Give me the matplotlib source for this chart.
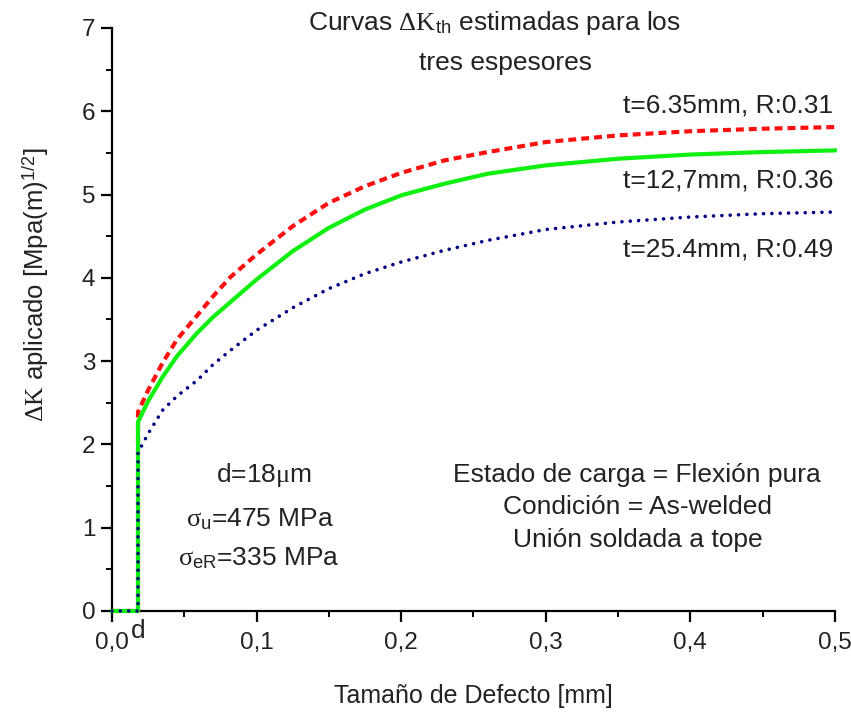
import numpy as np
import matplotlib
matplotlib.use("Agg")
import matplotlib.pyplot as plt
from matplotlib.ticker import MultipleLocator, FuncFormatter

plt.rcParams["font.family"] = ["Liberation Sans", "DejaVu Sans"]
plt.rcParams["mathtext.fontset"] = "custom"
plt.rcParams["mathtext.rm"] = "Liberation Serif"
plt.rcParams["mathtext.it"] = "Liberation Serif"
plt.rcParams["mathtext.sf"] = "Liberation Sans"

# tamaño de defecto d [mm] y puntos de las curvas
d = 0.018
a = [0.018, 0.025, 0.035, 0.045, 0.059, 0.07, 0.082, 0.1, 0.125, 0.15,
     0.175, 0.2, 0.23, 0.26, 0.3, 0.35, 0.4, 0.45, 0.5]

dk_635 = [2.39, 2.65, 2.98, 3.26, 3.55, 3.78, 4.01, 4.28, 4.62, 4.90,
          5.10, 5.26, 5.41, 5.51, 5.63, 5.71, 5.76, 5.79, 5.81]
dk_127 = [2.27, 2.52, 2.81, 3.06, 3.34, 3.53, 3.71, 3.98, 4.32, 4.60,
          4.82, 4.99, 5.13, 5.25, 5.35, 5.43, 5.48, 5.51, 5.53]
dk_254 = [1.90, 2.13, 2.41, 2.58, 2.77, 2.96, 3.13, 3.37, 3.64, 3.87,
          4.05, 4.19, 4.33, 4.45, 4.58, 4.67, 4.73, 4.77, 4.79]

labels = ["t=6.35mm, R:0.31", "t=12,7mm, R:0.36", "t=25.4mm, R:0.49"]


def with_step(y):
    # tramo en cero hasta d y salto vertical en d
    xs = [0.0, d] + a
    ys = [0.0, 0.0] + y
    return xs, ys


fig = plt.figure(figsize=(8.51, 7.15), dpi=100)
ax = fig.add_axes([0.1316, 0.1455, 0.8494, 0.8154])

x, y = with_step(dk_635)
ax.plot(x, y, color="#ff1010", lw=3.0, ls=(0, (1.9, 1.2)),
        zorder=3, clip_on=False)
x, y = with_step(dk_127)
ax.plot(x, y, color="#10f010", lw=3.0, ls="-", zorder=3, clip_on=False)
x, y = with_step(dk_254)
ax.plot(x, y, color="#000080", lw=2.6, ls=(0, (0.01, 2.3)),
        dash_capstyle="round", zorder=3, clip_on=False)

ax.set_xlim(0, 0.5)
ax.set_ylim(0, 7)
for s in ["top", "right"]:
    ax.spines[s].set_visible(False)
for s in ["left", "bottom"]:
    ax.spines[s].set_linewidth(1.6)

tc = "#222222"
ax.xaxis.set_major_locator(MultipleLocator(0.1))
ax.xaxis.set_minor_locator(MultipleLocator(0.05))
ax.yaxis.set_major_locator(MultipleLocator(1))
ax.yaxis.set_minor_locator(MultipleLocator(0.5))
ax.xaxis.set_major_formatter(FuncFormatter(lambda v, p: f"{v:.1f}".replace(".", ",")))
ax.tick_params(which="major", direction="out", length=8, width=1.6,
               labelsize=17.5, labelcolor=tc)
ax.tick_params(axis="x", which="major", pad=7)
ax.tick_params(axis="y", which="major", pad=4)
ax.tick_params(which="minor", direction="out", length=4.5, width=1.4)

ax.set_xlabel("Tamaño de Defecto [mm]", fontsize=18, color=tc)
ax.xaxis.set_label_coords(0.5, -0.125)
ax.set_ylabel(r"$\Delta\mathrm{K}$ aplicado [Mpa(m)$^{\mathsf{1/2}}$]",
              fontsize=18.5, color=tc)
ax.yaxis.set_label_coords(-0.084, 0.559)

ax.text(0.1355, 6.97, r"Curvas $\Delta\mathrm{K}_{\mathsf{th}}$ estimadas para los",
        ha="left", va="baseline", fontsize=19, color=tc)
ax.text(0.272, 6.49, "tres espesores", ha="center", va="baseline",
        fontsize=19, color=tc)

ax.text(0.499, 5.98, labels[0], ha="right", va="baseline", fontsize=19, color=tc)
ax.text(0.499, 5.09, labels[1], ha="right", va="baseline", fontsize=19, color=tc)
ax.text(0.499, 4.25, labels[2], ha="right", va="baseline", fontsize=19, color=tc)

ax.text(0.105, 1.55, r"d=18$\mathrm{\mu}$m", ha="center", va="baseline",
        fontsize=19, color=tc)
ax.text(0.1024, 1.01, r"$\sigma_{\mathsf{u}}$=475 MPa", ha="center", va="baseline",
        fontsize=19, color=tc)
ax.text(0.1017, 0.552, r"$\sigma_{\mathsf{eR}}$=335 MPa", ha="center", va="baseline",
        fontsize=19, color=tc)

ax.text(0.3634, 1.55, "Estado de carga = Flexión pura", ha="center", va="baseline",
        fontsize=19, color=tc)
ax.text(0.3634, 1.17, "Condición = As-welded", ha="center", va="baseline",
        fontsize=19, color=tc)
ax.text(0.3634, 0.77, "Unión soldada a tope", ha="center", va="baseline",
        fontsize=19, color=tc)

ax.text(0.0183, -0.32, "d", ha="center", va="baseline", fontsize=19, color=tc)

fig.savefig("out.png", dpi=100)
